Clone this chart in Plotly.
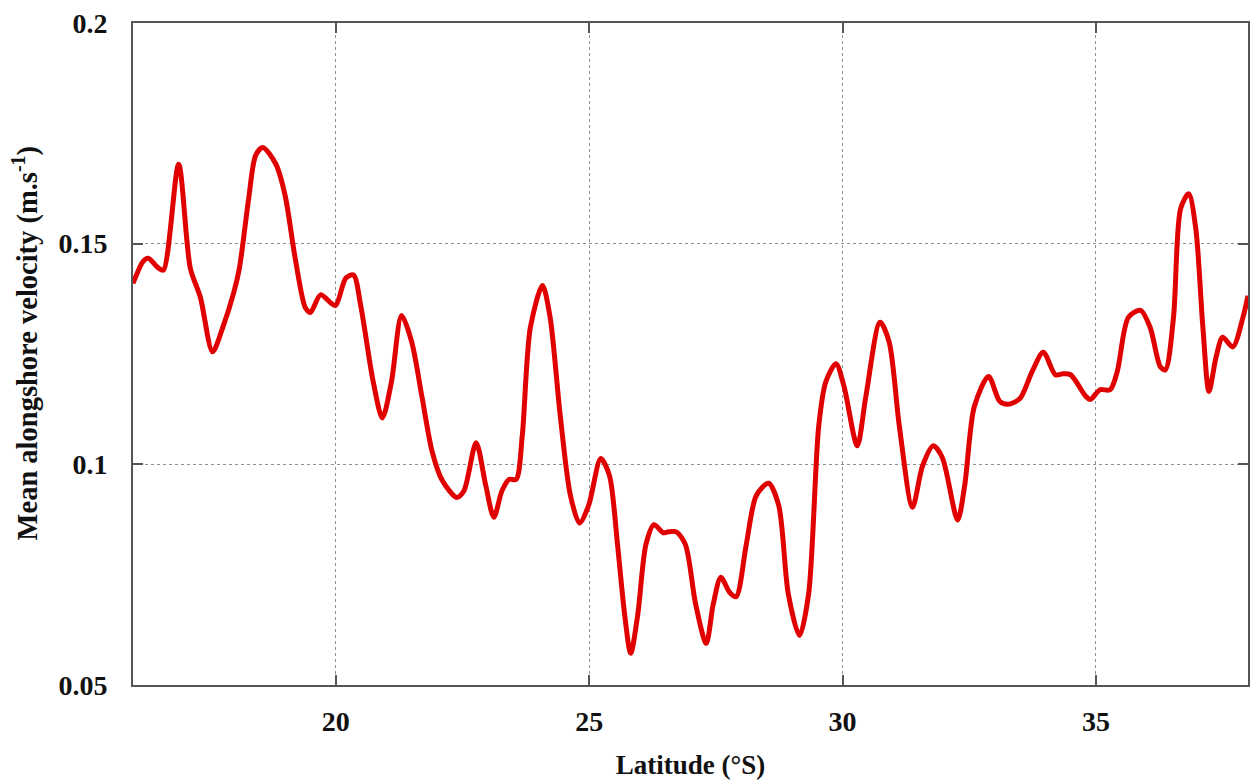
import plotly.graph_objects as go

latitude = [16.0, 16.2, 16.3, 16.5, 16.6, 16.9, 17.13, 17.33, 17.57, 17.77, 17.99, 18.1, 18.28, 18.42, 18.56,
            18.82, 19.0, 19.2, 19.4, 19.5, 19.7, 19.9, 20.0, 20.2, 20.35, 20.5, 20.74, 20.92, 21.1, 21.3,
            21.5, 21.7, 21.9, 22.1, 22.39, 22.53, 22.77, 22.96, 23.12, 23.28, 23.42, 23.56, 23.68, 23.84,
            24.08, 24.23, 24.43, 24.63, 24.81, 24.99, 25.23, 25.4, 25.56, 25.7, 25.82, 25.96, 26.12, 26.28,
            26.46, 26.56, 26.72, 26.9, 27.1, 27.31, 27.45, 27.6, 27.77, 27.9, 28.1, 28.3, 28.54, 28.74,
            28.93, 29.15, 29.33, 29.53, 29.67, 29.87, 30.03, 30.29, 30.46, 30.74, 30.92, 31.12, 31.38,
            31.58, 31.79, 31.97, 32.27, 32.41, 32.6, 32.88, 33.1, 33.26, 33.5, 33.74, 33.96, 34.2, 34.35,
            34.5, 34.8, 34.89, 35.08, 35.28, 35.42, 35.64, 35.88, 36.07, 36.27, 36.37, 36.53, 36.67, 36.83,
            36.97, 37.11, 37.23, 37.37, 37.5, 37.7, 37.9, 38.0]
velocity = [0.141, 0.146, 0.1467, 0.1445, 0.144, 0.168, 0.1445, 0.1378, 0.1255, 0.131, 0.139, 0.1445, 0.160,
            0.170, 0.1718, 0.168, 0.161, 0.1467, 0.1355, 0.1344, 0.1384, 0.1366, 0.136, 0.1422, 0.1429,
            0.1355, 0.1187, 0.1105, 0.1187, 0.1337, 0.1277, 0.1154, 0.103, 0.0964, 0.0925, 0.094, 0.1049,
            0.0952, 0.088, 0.094, 0.0966, 0.0966, 0.1064, 0.131, 0.1405, 0.1333, 0.111, 0.093, 0.0867,
            0.0907, 0.1013, 0.0975, 0.0818, 0.066, 0.0572, 0.066, 0.0818, 0.0863, 0.0845, 0.0847, 0.0847,
            0.0818, 0.0684, 0.0594, 0.0684, 0.0744, 0.071, 0.070, 0.0818, 0.093, 0.0957, 0.0907, 0.0706,
            0.0612, 0.0706, 0.1087, 0.1187, 0.1228, 0.1176, 0.1042, 0.1154, 0.1322, 0.1277, 0.1087, 0.0903,
            0.0997, 0.1042, 0.1015, 0.0874, 0.0952, 0.1131, 0.1199, 0.1143, 0.1136, 0.1149, 0.121, 0.1254,
            0.1203, 0.1205, 0.1203, 0.1154, 0.1147, 0.1169, 0.1169, 0.121, 0.1333, 0.1349, 0.131, 0.1221,
            0.1214, 0.1333, 0.1579, 0.1613, 0.1534, 0.131, 0.1165, 0.1243, 0.1288, 0.1266, 0.1333, 0.1382]

x_ticks = [20, 25, 30, 35]
y_ticks = [0.05, 0.1, 0.15, 0.2]
y_tick_labels = ["0.05", "0.1", "0.15", "0.2"]

x_title = "Latitude (°S)"
y_title = "Mean alongshore velocity (m.s<sup>-1</sup>)"

font_family = "Liberation Serif, Times New Roman, serif"

fig = go.Figure()
fig.add_trace(go.Scatter(
    x=latitude, y=velocity, mode="lines",
    line=dict(color="#E00000", width=5, shape="spline", smoothing=0.8),
    showlegend=False, hoverinfo="x+y",
))

axis_common = dict(
    showline=True, linecolor="#555555", linewidth=2, mirror="ticks",
    ticks="inside", ticklen=10, tickwidth=1.5, tickcolor="#555555",
    showgrid=True, gridcolor="#8f8f8f", griddash="dot", gridwidth=1.3,
    zeroline=False,
    tickfont=dict(family=font_family, size=28, color="#111111", weight="bold"),
)

fig.update_xaxes(
    range=[16, 38], tickvals=x_ticks, ticklabelstandoff=10,
    title=dict(text=x_title, standoff=20,
               font=dict(family=font_family, size=27, color="#111111", weight="bold")),
    **axis_common,
)
fig.update_yaxes(
    range=[0.05, 0.2], tickvals=y_ticks, ticktext=y_tick_labels, ticklabelstandoff=18,
    **axis_common,
)

fig.add_annotation(
    text=y_title, textangle=-90, showarrow=False,
    xref="paper", yref="paper", x=0, y=0.516, xanchor="center", yanchor="middle",
    xshift=-108,
    font=dict(family=font_family, size=28.5, color="#111111", weight="bold"),
)

fig.update_layout(
    width=1258, height=783,
    margin=dict(l=133, r=8, t=22, b=90),
    paper_bgcolor="white", plot_bgcolor="white",
)

fig.write_html("out.html")
